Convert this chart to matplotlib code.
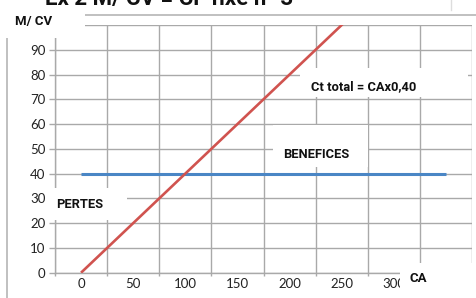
import matplotlib
matplotlib.use("Agg")
import matplotlib.pyplot as plt
from matplotlib.patches import Rectangle
from matplotlib.lines import Line2D

plt.rcParams['font.family'] = ['Lato', 'DejaVu Sans']

# Data
ca = [0, 50, 100, 150, 200, 250, 300, 350]
ct_total = [0, 20, 40, 60, 80, 100, 120, 140]
cf = [40, 40, 40, 40, 40, 40, 40, 40]
x_tick_labels = ['0', '50', '100', '150', '200', '250', '300', '']
y_ticks = [0, 10, 20, 30, 40, 50, 60, 70, 80, 90, 100]
y_tick_labels = ['0', '10', '20', '30', '40', '50', '60', '70', '80', '90', '']

W, H = 477, 298
fig = plt.figure(figsize=(W / 100, H / 100), dpi=100)
fig.patch.set_facecolor('white')

def fx(px):
    return px / W

def fy(py):
    return 1 - py / H

left, right, top, bottom = 55, 472, 25, 272.7
ax = fig.add_axes([fx(left), fy(bottom), (right - left) / W, (bottom - top) / H])

grid_c = '#a9a9a9'
ax.set_xlim(-25, 375)
ax.set_ylim(0, 100)
ax.set_xticks([-25 + 50 * i for i in range(9)])
ax.set_xticklabels([])
ax.set_xticks(ca, minor=True)
ax.set_xticklabels(x_tick_labels, minor=True)
ax.set_yticks(y_ticks)
ax.set_yticklabels(y_tick_labels)
ax.grid(True, which='major', color=grid_c, linewidth=1.0)
ax.set_axisbelow(True)
for s in ['top', 'right']:
    ax.spines[s].set_visible(False)
for s in ['left', 'bottom']:
    ax.spines[s].set_color(grid_c)
    ax.spines[s].set_linewidth(1.0)
ax.tick_params(axis='y', which='major', length=4, width=1.0, color=grid_c,
               labelsize=9.5, pad=3, labelcolor='#222222')
ax.tick_params(axis='x', which='major', length=2.5, width=1.0, color=grid_c)
ax.tick_params(axis='x', which='minor', length=0, labelsize=9.5, pad=3.5,
               labelcolor='#222222')

ax.plot(ca, cf, color='#4a86c5', linewidth=2.2, solid_capstyle='butt', zorder=3)
ax.plot(ca, ct_total, color='#d0534f', linewidth=1.9, solid_capstyle='butt', zorder=4)

# Chart border lines
fig.add_artist(Line2D([fx(85), fx(477)], [fy(15), fy(15)], color='#b5b5b5', lw=1.2))
fig.add_artist(Line2D([fx(7), fx(7)], [fy(15), fy(298)], color='#b5b5b5', lw=1.2))
fig.add_artist(Line2D([fx(451), fx(451)], [fy(0), fy(10)], color='#dddddd', lw=1.0))

# White label boxes
def wbox(x0, y0, x1, y1):
    fig.add_artist(Rectangle((fx(x0), fy(y1)), (x1 - x0) / W, (y1 - y0) / H,
                             transform=fig.transFigure, facecolor='white',
                             edgecolor='none', zorder=5))

wbox(3, 4, 85, 38)
wbox(300, 68, 468, 97)
wbox(273, 125, 368, 167)
wbox(48, 188, 127, 220)
wbox(400, 263, 477, 298)

bold_fam = ['Roboto', 'DejaVu Sans']

def label(px, py, s, size=9.3):
    fig.text(fx(px), fy(py), s, ha='center', va='center', fontsize=size,
             fontweight='bold', family=bold_fam, color='#111111', zorder=6)

label(34, 22, 'M/ CV', 9.5)
label(364, 87, 'Ct total = CAx0,40')
label(316, 154, 'BENEFICES')
label(80, 204, 'PERTES')
label(418, 278, 'CA', 9.5)

# Title (cut off at top of the picture)
fig.text(fx(45), fy(5.5), 'Ex 2 M/ CV = CF fixe n° 3', ha='left', va='baseline',
         fontsize=16, fontweight='bold', family=bold_fam, color='#111111', zorder=6)

fig.savefig('out.png', dpi=100)
